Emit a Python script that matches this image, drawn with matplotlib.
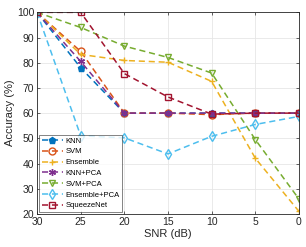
import matplotlib
matplotlib.use("Agg")
import matplotlib.pyplot as plt

plt.rcParams['font.family'] = ['Liberation Sans', 'DejaVu Sans']

snr = [30, 25, 20, 15, 10, 5, 0]
knn = [100, 78, 60, 60, 60, 60, 60]
svm = [100, 84.5, 60, 60, 59.4, 60, 60]
ensemble = [100, 83.3, 80.9, 80.2, 72.6, 42.1, 21]
knn_pca = [100, 80.5, 60, 60, 60, 60, 60]
svm_pca = [100, 94, 86.6, 82.1, 75.9, 49.5, 25.9]
ensemble_pca = [100, 51, 50.2, 43.8, 50.8, 55.5, 58.7]
squeezenet = [100, 100, 75.7, 66.4, 59.6, 60, 60]

series = [
    ("KNN", knn, "#0072BD", "p", True),
    ("SVM", svm, "#D95319", "o", False),
    ("Ensemble", ensemble, "#EDB120", "+", False),
    ("KNN+PCA", knn_pca, "#7E2F8E", (6, 2, 0), False),
    ("SVM+PCA", svm_pca, "#77AC30", "v", False),
    ("Ensemble+PCA", ensemble_pca, "#4DBEEE", "d", False),
    ("SqueezeNet", squeezenet, "#A2142F", "s", False),
]

fig = plt.figure(figsize=(3.06, 2.47), dpi=100)
ax = fig.add_axes([0.121, 0.134, 0.856, 0.816])
for name, vals, col, mk, filled in series:
    ax.plot(snr, vals, linestyle='--', color=col, marker=mk, markersize=5,
            markerfacecolor=col if filled else 'none', markeredgecolor=col,
            linewidth=1.1, markeredgewidth=1.0, label=name, dashes=(4, 2.5))

ax.set_xlim(30, 0)
ax.set_ylim(20, 100)
ax.set_xticks([30, 25, 20, 15, 10, 5, 0])
ax.set_yticks([20, 30, 40, 50, 60, 70, 80, 90, 100])
ax.grid(True, color='#e6e6e6', linewidth=0.6)
ax.set_axisbelow(True)
ax.tick_params(labelsize=7.5, direction='in', length=2, width=0.5, colors='#262626',
               top=True, right=True, pad=2)
for s in ax.spines.values():
    s.set_linewidth(0.6)
    s.set_color('#262626')
ax.set_xlabel("SNR (dB)", fontsize=8, color='#262626', labelpad=2)
ax.set_ylabel("Accuracy (%)", fontsize=8, color='#262626', labelpad=1)
leg = ax.legend(loc='lower left', fontsize=5.5, frameon=True, fancybox=False,
                edgecolor='#262626', handlelength=2.8, borderpad=0.3,
                labelspacing=0.45, handletextpad=0.3, borderaxespad=0.3)
leg.get_frame().set_linewidth(0.5)
fig.savefig("out.png", dpi=100)
